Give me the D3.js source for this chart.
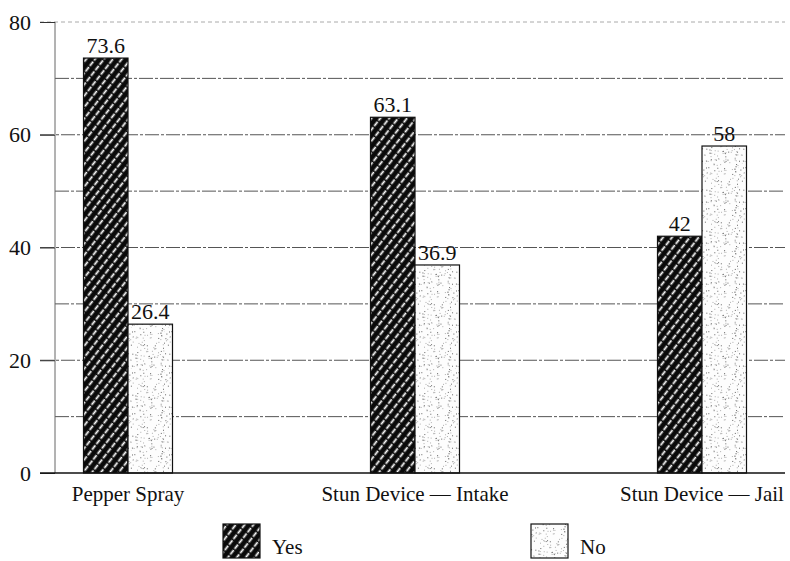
<!DOCTYPE html>
<html>
<head>
<meta charset="utf-8">
<script src="https://cdn.jsdelivr.net/npm/d3@7"></script>
<style>
  body { margin: 0; background: #fff; }
  svg { display: block; font-family: "Liberation Serif", "Times New Roman", serif; }
</style>
</head>
<body>
<div id="chart"></div>
<script>
// data
const categories = ["Pepper Spray", "Stun Device \u2014 Intake", "Stun Device \u2014 Jail"];
const yesValues = [73.6, 63.1, 42];
const noValues = [26.4, 36.9, 58];
const yesLabels = ["73.6", "63.1", "42"];
const noLabels = ["26.4", "36.9", "58"];
const yTicks = [0, 20, 40, 60, 80];
const gridValues = [10, 20, 30, 40, 50, 60, 70];
const seriesNames = ["Yes", "No"];

const width = 790, height = 561;

var svg = d3.select("#chart").append("svg")
    .attr("width", width).attr("height", height);

var defs = svg.append("defs");

// hatched fill for "Yes"
var hatch = defs.append("pattern")
    .attr("id", "hatch")
    .attr("patternUnits", "userSpaceOnUse")
    .attr("width", 7).attr("height", 7)
    .attr("patternTransform", "rotate(38)");
hatch.append("rect").attr("width", 7).attr("height", 7).attr("fill", "#0a0a0a");
hatch.append("line")
    .attr("x1", 3.5).attr("y1", 0).attr("x2", 3.5).attr("y2", 7)
    .attr("stroke", "#fff").attr("stroke-width", 1.8)
    .attr("stroke-dasharray", "5.5,1.5");

// stipple fill for "No" (fixed dot texture, decoration only)
var stip = defs.append("pattern")
    .attr("id", "stipple")
    .attr("patternUnits", "userSpaceOnUse")
    .attr("width", 37).attr("height", 41);
stip.append("rect").attr("width", 37).attr("height", 41).attr("fill", "#fdfdfd");
var seed = 7;
function nextRand() {
    seed = (seed * 16807) % 2147483647;
    return seed / 2147483647;
}
for (var i = 0; i < 120; i++) {
    stip.append("rect")
        .attr("x", nextRand() * 37)
        .attr("y", nextRand() * 41)
        .attr("width", 1).attr("height", 1)
        .attr("fill", nextRand() < 0.4 ? "#666" : "#b0b0b0");
}

// scales
var y = d3.scaleLinear().domain([0, 80]).range([473, 22]);
var x0 = d3.scalePoint().domain(categories).range([128, 702]);
var x1 = d3.scaleBand().domain(seriesNames).range([-44.5, 44.5]);

// gridlines
svg.append("g").selectAll("line")
    .data(gridValues)
    .enter()
    .append("line")
    .attr("x1", function(d) { return d % 20 === 0 ? 40 : 55; })
    .attr("x2", 785)
    .attr("y1", function(d) { return y(d); })
    .attr("y2", function(d) { return y(d); })
    .attr("stroke", "#555")
    .attr("stroke-width", 1)
    .attr("stroke-dasharray", "14,2,3,2");

// top line at 80 (lighter)
svg.append("line")
    .attr("x1", 40).attr("x2", 785)
    .attr("y1", y(80)).attr("y2", y(80))
    .attr("stroke", "#aaa")
    .attr("stroke-width", 1)
    .attr("stroke-dasharray", "4,3");

// y axis
var yAxis = d3.axisLeft(y).tickValues(yTicks).tickSize(15).tickPadding(9);
var ag = svg.append("g").attr("transform", "translate(55,0)").call(yAxis);
ag.select(".domain").attr("stroke", "#666").attr("d", "M0," + y(80) + "V" + y(0));
ag.selectAll(".tick line").attr("stroke", "#333");
ag.selectAll(".tick text")
    .style("font-family", "'Liberation Serif', serif")
    .style("font-size", "22px")
    .attr("fill", "#111");

// bars
var groups = svg.append("g").selectAll("g")
    .data(categories)
    .enter()
    .append("g")
    .attr("transform", function(d) { return "translate(" + x0(d) + ",0)"; });

groups.each(function(cat, i) {
    var g = d3.select(this);
    var rows = [
        { s: "Yes", v: yesValues[i], t: yesLabels[i] },
        { s: "No", v: noValues[i], t: noLabels[i] }
    ];
    g.selectAll("rect")
        .data(rows)
        .enter()
        .append("rect")
        .attr("x", function(d) { return x1(d.s); })
        .attr("y", function(d) { return y(d.v); })
        .attr("width", x1.bandwidth())
        .attr("height", function(d) { return y(0) - y(d.v); })
        .attr("fill", function(d) { return d.s === "Yes" ? "url(#hatch)" : "url(#stipple)"; })
        .attr("stroke", "#111")
        .attr("stroke-width", 1.2);
    g.selectAll("text.val")
        .data(rows)
        .enter()
        .append("text")
        .attr("class", "val")
        .attr("x", function(d) { return x1(d.s) + x1.bandwidth() / 2; })
        .attr("y", function(d) { return y(d.v) - 5; })
        .attr("text-anchor", "middle")
        .style("font-size", "22px")
        .attr("fill", "#111")
        .text(function(d) { return d.t; });
});

// baseline
svg.append("line")
    .attr("x1", 40).attr("x2", 785)
    .attr("y1", y(0)).attr("y2", y(0))
    .attr("stroke", "#111").attr("stroke-width", 1.5);

// category labels
svg.append("g").selectAll("text")
    .data(categories)
    .enter()
    .append("text")
    .attr("x", function(d) { return x0(d); })
    .attr("y", 501)
    .attr("text-anchor", "middle")
    .style("font-size", "21px")
    .attr("fill", "#111")
    .text(function(d) { return d; });

// legend
const legendX = [223, 531];
var lg = svg.append("g").selectAll("g")
    .data(seriesNames)
    .enter()
    .append("g")
    .attr("transform", function(d, i) { return "translate(" + legendX[i] + ",524)"; });
lg.append("rect")
    .attr("width", 37).attr("height", 34)
    .attr("fill", function(d) { return d === "Yes" ? "url(#hatch)" : "url(#stipple)"; })
    .attr("stroke", "#111")
    .attr("stroke-width", 1.2);
lg.append("text")
    .attr("x", 49)
    .attr("y", 30)
    .style("font-size", "21px")
    .attr("fill", "#111")
    .text(function(d) { return d; });
</script>
</body>
</html>
